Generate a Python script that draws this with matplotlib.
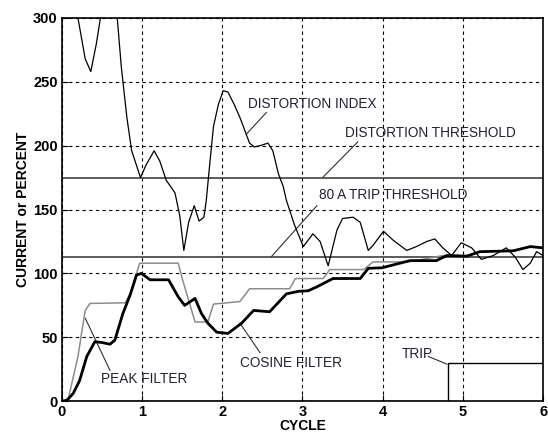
import matplotlib
matplotlib.use("Agg")
import matplotlib.pyplot as plt
import numpy as np

plt.rcParams['font.family'] = ['Liberation Sans', 'DejaVu Sans']

# distortion index (values above 300 run off the top of the axes)
dist_x = [0.0, 0.18, 0.20, 0.29, 0.36, 0.43, 0.48, 0.52, 0.65, 0.69, 0.74, 0.81, 0.87,
          0.98, 1.05, 1.15, 1.22, 1.30, 1.41, 1.47, 1.52, 1.58, 1.65, 1.71, 1.77, 1.80,
          1.85, 1.89, 1.95, 2.01, 2.07, 2.15, 2.22, 2.34, 2.40, 2.47, 2.57, 2.63, 2.70,
          2.76, 2.80, 2.90, 3.01, 3.13, 3.22, 3.32, 3.43, 3.50, 3.63, 3.72, 3.82, 3.88,
          4.01, 4.13, 4.30, 4.42, 4.55, 4.65, 4.75, 4.86, 4.98, 5.11, 5.23, 5.38, 5.54,
          5.65, 5.75, 5.84, 5.92, 6.0]
dist_y = [330, 315, 300, 268, 258, 280, 300, 325, 325, 300, 262, 222, 196,
          175, 185, 196, 188, 173, 163, 145, 118, 140, 153, 141, 144, 157,
          190, 215, 232, 243, 242, 232, 222, 202, 199, 200, 202, 196, 178,
          168, 157, 138, 121, 131, 125, 106, 134, 143, 144, 140, 118, 122,
          133, 126, 118, 121, 125, 127, 120, 114, 124, 120, 111, 114, 120,
          113, 103, 108, 117, 114]

# peak filter
peak_x = [0.0, 0.08, 0.20, 0.29, 0.35, 0.79, 0.85, 0.93, 0.97, 1.45, 1.50, 1.66,
          1.82, 1.89, 2.22, 2.34, 2.84, 2.91, 3.26, 3.34, 3.76, 3.88, 4.30, 4.50,
          4.75, 5.05, 5.21, 5.63, 5.84, 6.0]
peak_y = [0, 2, 35, 71, 76.5, 77, 84, 100, 108, 108, 96, 62,
          62, 76, 78, 88, 88, 96, 96, 103, 103, 109, 109, 111,
          114, 114, 117, 118, 121, 120]

# cosine filter
cos_x = [0.0, 0.06, 0.14, 0.22, 0.31, 0.41, 0.49, 0.60, 0.66, 0.76, 0.85, 0.93,
         0.99, 1.10, 1.22, 1.33, 1.45, 1.53, 1.66, 1.74, 1.82, 1.93, 2.07, 2.24,
         2.39, 2.59, 2.80, 2.95, 3.07, 3.18, 3.38, 3.72, 3.82, 3.99, 4.34, 4.67,
         4.80, 5.05, 5.21, 5.63, 5.84, 6.0]
cos_y = [0, 0.5, 6, 16, 35, 46.5, 46, 44.6, 47.8, 68.6, 83, 98.7,
         100, 95, 95, 95, 81.7, 75, 80.4, 68.6, 61, 54, 53, 61,
         71, 70, 84, 86, 86.4, 89.5, 96, 96, 104, 104.4, 110, 110,
         114, 113.5, 117, 117.7, 121, 120]

# trip signal
trip_x = [0.0, 4.81, 4.81, 6.0]
trip_y = [0, 0, 30, 30]

dist_threshold = 175
trip_threshold = 113

fig = plt.figure(figsize=(5.48, 4.37), dpi=100)
ax = fig.add_axes([0.113, 0.082, 0.878, 0.877])

ax.axhline(dist_threshold, color='#404040', lw=1.2, zorder=2)
ax.axhline(trip_threshold, color='#404040', lw=1.2, zorder=2)
ax.plot(peak_x, peak_y, color='#8c8c8c', lw=1.1, zorder=3)
ax.plot(dist_x, dist_y, color='black', lw=0.9, zorder=4)
ax.plot(cos_x, cos_y, color='black', lw=2.0, zorder=5)
ax.plot(trip_x, trip_y, color='black', lw=1.0, zorder=4)

ax.set_xlim(0, 6)
ax.set_ylim(0, 300)
ax.set_xticks(range(0, 7))
ax.set_yticks(range(0, 301, 50))
ax.grid(True, color='black', ls=(0, (3, 3)), lw=0.8)
ax.tick_params(direction='in', length=4, labelsize=10.5, pad=3)
for lab in ax.get_xticklabels() + ax.get_yticklabels():
    lab.set_fontweight('bold')
for s in ax.spines.values():
    s.set_linewidth(1.2)

ax.set_xlabel('CYCLE', fontweight='bold', fontsize=10, labelpad=0)
ax.set_ylabel('CURRENT or PERCENT', fontweight='bold', fontsize=10, labelpad=2)

tc = '#202038'
fs = 9.8
lc = '#303030'

ax.text(2.32, 233, 'DISTORTION INDEX', fontsize=fs, color=tc, va='center')
ax.plot([2.55, 2.30], [226, 209], color=lc, lw=0.8)
ax.text(3.53, 209.6, 'DISTORTION THRESHOLD', fontsize=fs, color=tc, va='center')
ax.plot([3.69, 3.26], [203, 175.6], color=lc, lw=0.8)
ax.text(3.20, 161, '80 A TRIP THRESHOLD', fontsize=fs, color=tc, va='center')
ax.plot([3.18, 2.61], [153, 113], color=lc, lw=0.8)
ax.text(0.49, 17, 'PEAK FILTER', fontsize=fs, color=tc, va='center')
ax.plot([0.60, 0.29], [24, 65], color=lc, lw=0.8)
ax.text(2.22, 30, 'COSINE FILTER', fontsize=fs, color=tc, va='center')
ax.plot([2.47, 2.22], [38, 61], color=lc, lw=0.8)
ax.text(4.24, 37, 'TRIP', fontsize=fs, color=tc, va='center')
ax.plot([4.57, 4.80], [35, 29], color=lc, lw=0.8)

fig.savefig('out.png', dpi=100)
